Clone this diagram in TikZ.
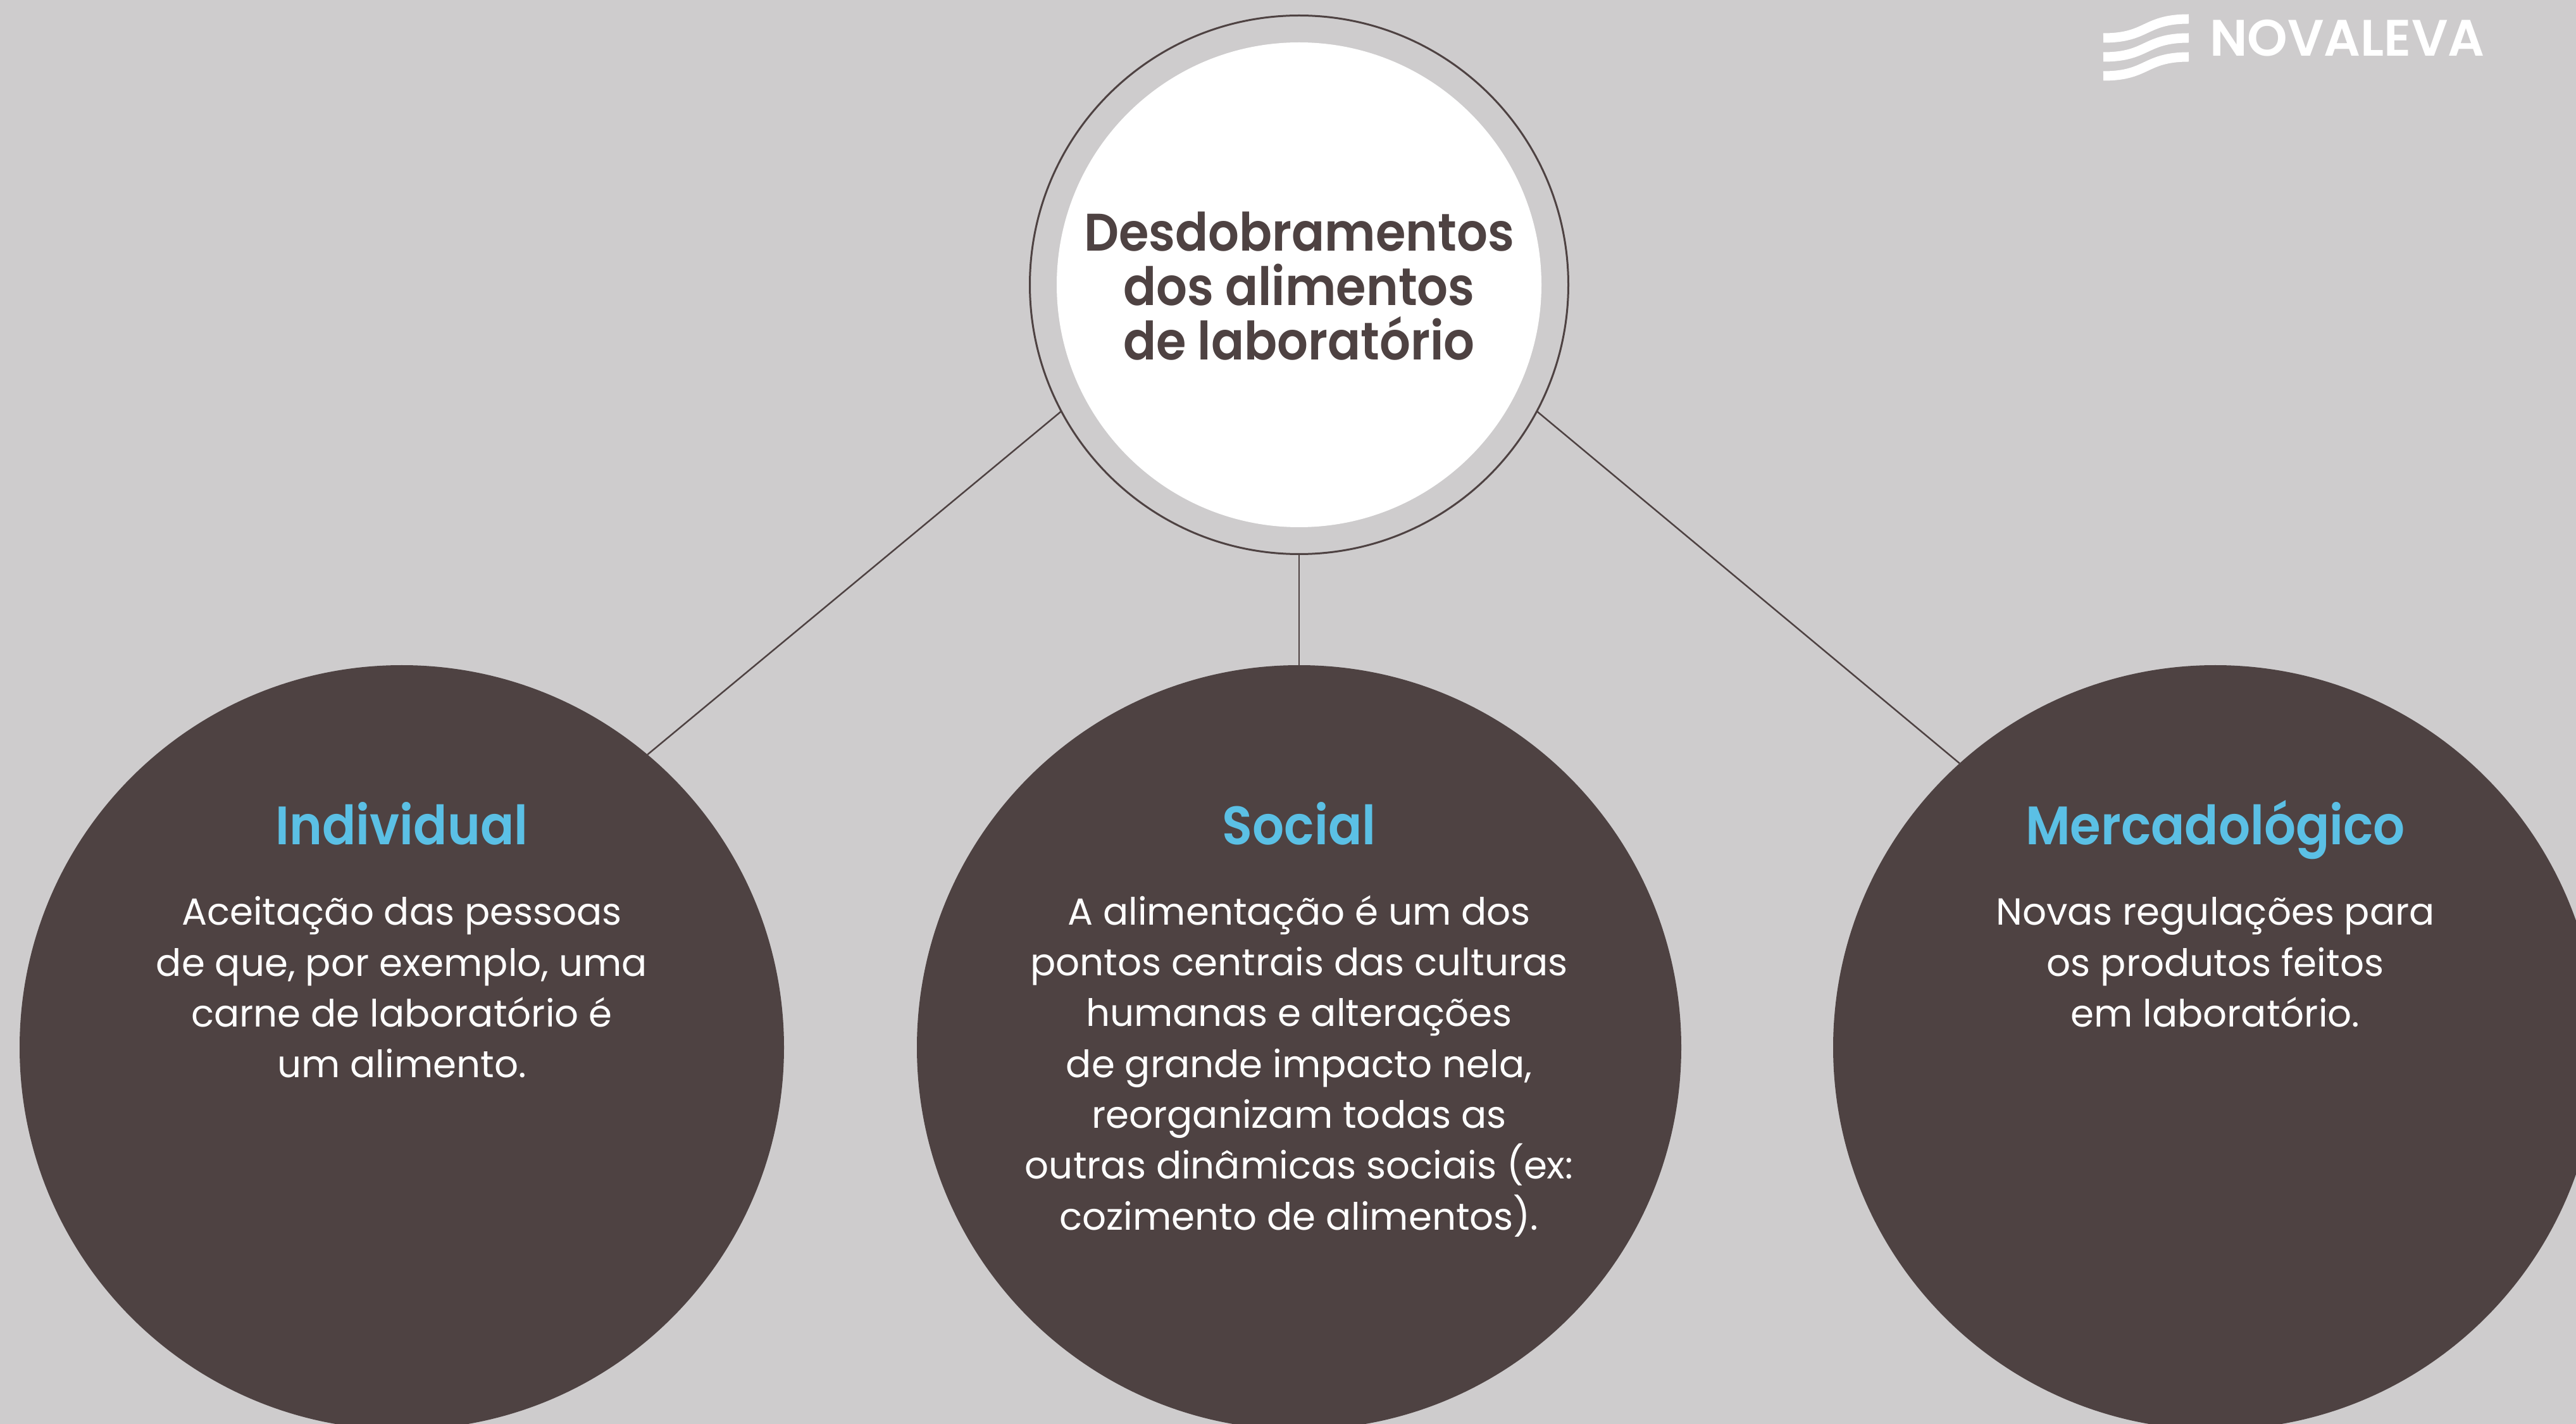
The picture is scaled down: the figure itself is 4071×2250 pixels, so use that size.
\documentclass[tikz,border=0pt]{standalone}
\usepackage{fontspec}
\setmainfont{Poppins}
\newfontface\medio{Poppins SemiBold}
\newfontface\medioestreito[FakeStretch=0.92]{Poppins SemiBold}
\definecolor{fundo}{RGB}{206,204,205}
\definecolor{marrom}{RGB}{78,66,66}
\definecolor{azul}{RGB}{91,192,229}
\tikzset{
  bolao/.style={circle,fill=marrom,minimum size=1208*0.2pt,inner sep=0pt,outer sep=0pt},
  ligacao/.style={draw=marrom,line width=0.5pt},
  titulo/.style={text=azul,font=\fontsize{17.1}{17.1}\medioestreito,anchor=base},
  corpo/.style={text=white,font=\fontsize{11.9}{16.06}\selectfont,align=center,anchor=north},
}
\begin{document}
\begin{tikzpicture}[x=0.2pt,y=0.2pt,yscale=-1,xscale=1]
\useasboundingbox (0,0) rectangle (4071,2250);
\fill [fundo] (0,0) rectangle (4071,2250);
% circulos de baixo
\node [bolao] (individual) at (635,1655) {};
\node [bolao] (social) at (2053,1655) {};
\node [bolao] (mercado) at (3501,1655) {};
% circulo central
\node [circle,draw=marrom,line width=0.6pt,minimum size=851*0.2pt,inner sep=0pt,outer sep=0pt] (anel) at (2053,450) {};
\node [circle,fill=white,minimum size=766*0.2pt,inner sep=0pt] (miolo) at (2053,450) {};
\node [text=marrom,align=center,font=\fontsize{16.7}{17.2}\medioestreito] (tema) at (2053,452) {Desdobramentos\\dos alimentos\\de laboratório};
% ligacoes
\draw [ligacao] (anel.208.3) -- (individual.50.3);
\draw [ligacao] (anel.south) -- (social.north);
\draw [ligacao] (anel.332.2) -- (mercado.132.2);
% textos
\node [titulo] (tindividual) at (635,1334) {Individual};
\node [titulo] (tsocial) at (2053,1334) {Social};
\node [titulo] (tmercado) at (3501,1334) {Mercadológico};
\node [corpo] (cindividual) at (635,1399) {Aceitação das pessoas\\de que, por exemplo, uma\\carne de laboratório é\\um alimento.};
\node [corpo] (csocial) at (2053,1397) {A alimentação é um dos\\pontos centrais das culturas\\humanas e alterações\\de grande impacto nela,\\reorganizam todas as\\outras dinâmicas sociais (ex:\\cozimento de alimentos).};
\node [corpo] (cmercado) at (3501,1400) {Novas regulações para\\os produtos feitos\\em laboratório.};
% logo
\foreach \desce in {0,30,60}
  \draw [white,line width=3pt] (3324,60+\desce) .. controls (3395,60+\desce) and (3388,30+\desce) .. (3459,30+\desce);
\node [text=white,font=\fontsize{16.2}{16.2}\medio,anchor=west,inner sep=0pt] (marca) at (3491,60) {NOVALEVA};
\end{tikzpicture}
\end{document}
